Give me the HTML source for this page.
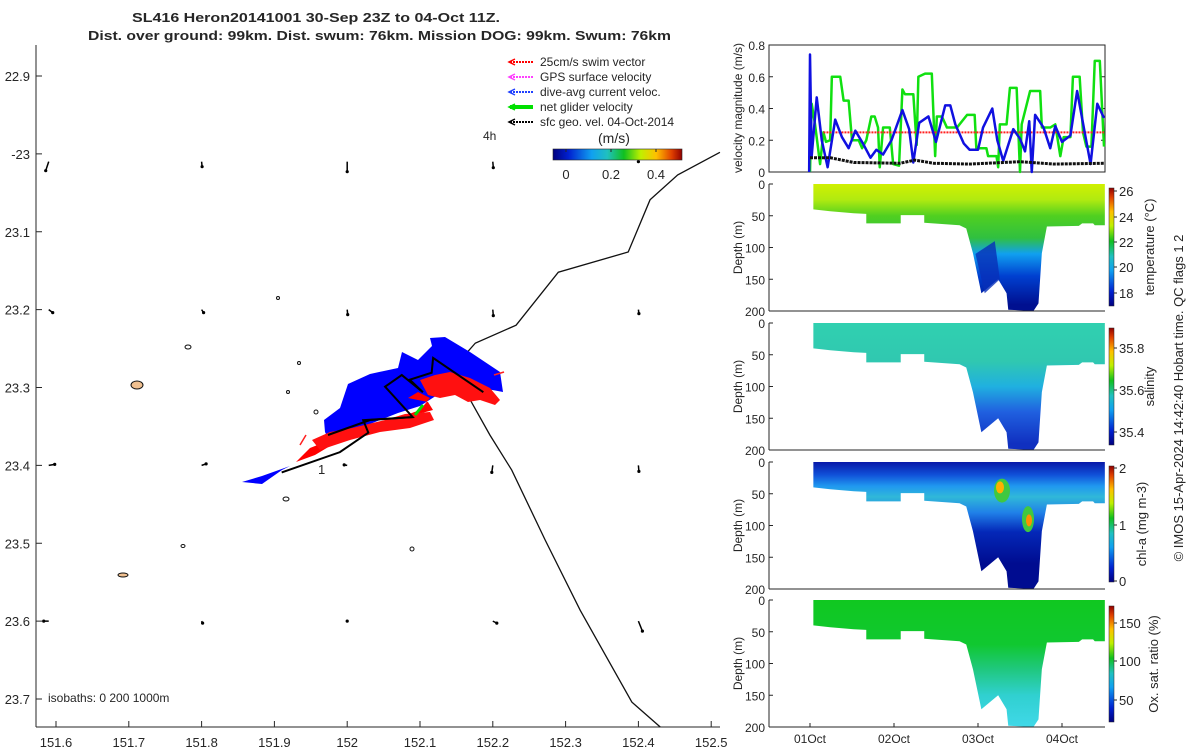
<!DOCTYPE html>
<html><head><meta charset="utf-8">
<style>
html,body{margin:0;padding:0;background:#fff;}
svg{display:block;font-family:"Liberation Sans","DejaVu Sans",sans-serif;}
text{fill:#262626;}
</style></head>
<body>
<svg id="fig" width="1200" height="750" viewBox="0 0 1200 750" xmlns="http://www.w3.org/2000/svg">
<defs>
<linearGradient id="jet" x1="0" y1="1" x2="0" y2="0">
<stop offset="0" stop-color="#00007f"/><stop offset="0.12" stop-color="#0020d0"/><stop offset="0.3" stop-color="#10a0f0"/><stop offset="0.42" stop-color="#20c0c0"/><stop offset="0.55" stop-color="#10c020"/><stop offset="0.68" stop-color="#c0f000"/><stop offset="0.8" stop-color="#ffc000"/><stop offset="0.92" stop-color="#e04000"/><stop offset="1" stop-color="#900000"/>
</linearGradient>
<linearGradient id="jeth" x1="0" y1="0" x2="1" y2="0">
<stop offset="0" stop-color="#00007f"/><stop offset="0.12" stop-color="#0020d0"/><stop offset="0.3" stop-color="#10a0f0"/><stop offset="0.42" stop-color="#20c0c0"/><stop offset="0.55" stop-color="#10c020"/><stop offset="0.68" stop-color="#c0f000"/><stop offset="0.8" stop-color="#ffc000"/><stop offset="0.92" stop-color="#e04000"/><stop offset="1" stop-color="#900000"/>
</linearGradient>
</defs>
<g>
<text x="132" y="22" font-size="13" font-weight="bold" fill="#000" textLength="368" lengthAdjust="spacingAndGlyphs">SL416 Heron20141001 30-Sep 23Z to 04-Oct 11Z.</text>
<text x="88" y="40" font-size="13" font-weight="bold" fill="#000" textLength="583" lengthAdjust="spacingAndGlyphs">Dist. over ground: 99km. Dist. swum: 76km. Mission DOG: 99km. Swum: 76km</text>
</g>
<g id="map"></g>
<g id="right"></g>
</svg>
<script>
const NS="http://www.w3.org/2000/svg";
function el(p,t,a,txt){const e=document.createElementNS(NS,t);for(const k in a)e.setAttribute(k,a[k]);if(txt!==undefined)e.textContent=txt;p.appendChild(e);return e;}

// ---------- data ----------
const lonTicks=[151.6,151.7,151.8,151.9,152,152.1,152.2,152.3,152.4,152.5];
const latTicks=[22.9,23,23.1,23.2,23.3,23.4,23.5,23.6,23.7];
const latLabels=["22.9","-23","23.1","23.2","23.3","23.4","23.5","23.6","23.7"];
const coastLon=[152.512,152.454,152.416,152.386,152.290,152.232,152.176,152.158,152.169,152.196,152.226,152.272,152.320,152.391,152.430];
const coastLat=[22.998,23.027,23.059,23.126,23.152,23.220,23.243,23.262,23.316,23.361,23.406,23.496,23.586,23.704,23.736];
const trackLon=[151.910,151.990,152.029,152.022,152.090,152.052,152.075,152.104,152.086,152.116,152.118,152.187];
const trackLat=[23.409,23.383,23.358,23.342,23.338,23.299,23.284,23.306,23.290,23.281,23.262,23.306];
const gridLon=[151.59,151.8,152.0,152.2,152.4];
const gridLat=[23.01,23.2,23.4,23.6];
const arrowU=[[-0.3,0.05,0,0.05,0],[0.4,0.2,0.05,0.05,0.05],[0.6,0.45,-0.3,-0.1,0.05],[-0.5,0.1,0,0.4,0.4]];
const arrowV=[[-0.9,-0.5,-1,-0.6,0],[-0.3,-0.3,-0.5,-0.6,-0.4],[0.1,0.15,0.05,-0.7,-0.6],[0,-0.2,0,-0.2,-1]];

const days=["01Oct","02Oct","03Oct","04Oct"];
const dayVal=[0,1,2,3];
const velTicks=[0,0.2,0.4,0.6,0.8];
const blueT=[-0.01,0,0.02,0.08,0.14,0.21,0.30,0.38,0.46,0.54,0.63,0.72,0.79,0.87,0.97,1.10,1.18,1.23,1.30,1.41,1.50,1.61,1.67,1.73,1.83,1.90,2.00,2.06,2.17,2.23,2.30,2.42,2.50,2.56,2.61,2.64,2.68,2.78,2.86,2.92,3.00,3.10,3.18,3.27,3.34,3.42,3.50];
const blueV=[0,0.74,0.1,0.47,0.2,0.03,0.33,0.22,0.15,0.26,0.18,0.09,0.14,0.11,0.2,0.39,0.27,0.06,0.31,0.35,0.19,0.42,0.42,0.3,0.18,0.14,0.14,0.28,0.4,0.2,0.07,0.27,0.21,0.13,0.32,0,0.36,0.28,0.15,0.29,0.19,0.23,0.51,0.25,0.05,0.43,0.34];
const greenT=[0,0.02,0.06,0.12,0.16,0.19,0.24,0.26,0.36,0.40,0.46,0.50,0.58,0.62,0.67,0.73,0.77,0.81,0.83,0.87,0.95,0.99,1.06,1.10,1.13,1.23,1.27,1.29,1.37,1.45,1.49,1.51,1.57,1.63,1.69,1.75,1.87,1.96,1.98,2.10,2.12,2.22,2.24,2.26,2.34,2.38,2.46,2.50,2.52,2.62,2.74,2.76,2.86,2.92,2.98,3.02,3.10,3.13,3.21,3.25,3.29,3.35,3.39,3.45,3.50];
const greenV=[0,0.43,0.3,0.05,0.25,0.19,0.2,0.6,0.6,0.45,0.45,0.2,0.2,0.15,0.2,0.35,0.35,0.28,0.03,0.28,0.28,0.05,0.04,0.52,0.49,0.49,0.17,0.6,0.62,0.62,0.1,0.35,0.35,0.28,0.28,0.28,0.36,0.36,0.15,0.15,0.1,0.1,0.03,0.3,0.3,0.53,0.53,0,0.3,0.51,0.51,0.28,0.28,0.3,0.1,0.22,0.22,0.6,0.6,0.25,0.16,0.16,0.7,0.7,0.16];
const blackT=[0,0.24,0.52,1.07,1.25,1.47,1.90,2.50,2.90,3.50];
const blackV=[0.09,0.09,0.06,0.055,0.075,0.055,0.05,0.065,0.05,0.055];
const redT=[0.16,3.5];
const redV=[0.25,0.25];
const profT=[0.04,0.24,0.52,0.67,0.67,1.08,1.08,1.36,1.36,1.78,1.86,1.94,2.04,2.24,2.34,2.36,2.66,2.72,2.76,2.82,3.20,3.24,3.37,3.39,3.51];
const profD=[40,43,46,47,62,62,49,49,61,65,70,109,172,150,172,198,200,188,109,67,66,62,62,65,65];
const depthTicks=[0,50,100,150,200];

// ---------- map ----------
const map=document.getElementById('map');
const X0=36,X1=720,YT=45,YB=727;
const lx=v=>56+(v-151.6)*728;
const ly=v=>76+(v-22.9)*778.75;
el(map,'line',{x1:X0,y1:YT,x2:X0,y2:YB,stroke:'#262626','stroke-width':1,});
el(map,'line',{x1:X0,y1:YB,x2:X1,y2:YB,stroke:'#262626','stroke-width':1,});
lonTicks.forEach(v=>{const x=lx(v);
 el(map,'line',{x1:x,y1:YB,x2:x,y2:YB-6,stroke:'#262626'});
 const t=el(map,'text',{x:x,y:747,'text-anchor':'middle','font-size':13},String(v));
 });
latTicks.forEach((v,i)=>{const y=ly(v);
 el(map,'line',{x1:X0,y1:y,x2:X0+6,y2:y,stroke:'#262626'});
 const t=el(map,'text',{x:30,y:y+5,'text-anchor':'end','font-size':13},latLabels[i]);
 });
let cp=coastLon.map((v,i)=>lx(v)+','+ly(coastLat[i])).join(' ');
const coast=el(map,'polyline',{points:cp,fill:'none',stroke:'#111','stroke-width':1.3});

[[137,385,6,4],[188,347,3,2],[286,499,3,2],[123,575,5,2],[183,546,2,1.5],[412,549,2,2],[278,298,1.5,1.5],[299,363,1.5,1.5],[288,392,1.5,1.5],[316,412,2,2]].forEach(a=>{
 const e=el(map,'ellipse',{cx:a[0],cy:a[1],rx:a[2],ry:a[3],fill:a[2]>4?'#f0c090':'none',stroke:'#111','stroke-width':1});
 });
gridLat.forEach((la,i)=>gridLon.forEach((lo,j)=>{const x=lx(lo),y=ly(la);const u=arrowU[i][j]*10,v=arrowV[i][j]*10;
 const a=el(map,'line',{x1:x,y1:y,x2:x+u,y2:y-v,stroke:'#000','stroke-width':1.5});
 
 el(map,'circle',{cx:x+u,cy:y-v,r:1.6,fill:'#000'});}));
const blue=el(map,'polygon',{points:'242,482 262,476 290,466 318,452 330,442 325,432 324,420 340,408 348,384 370,374 398,368 402,352 418,360 432,346 430,338 445,337 470,352 500,372 503,392 482,388 455,375 442,392 420,406 398,413 370,424 345,438 312,455 282,470 262,484',fill:'#0000ff'});

const red1=el(map,'polygon',{points:'296,462 310,448 330,440 345,434 375,428 398,420 418,414 433,410 428,402 408,398 418,392 430,398 420,410 398,418 372,425 340,440 315,455',fill:'#ff0000'});

el(map,'polygon',{points:'312,440 330,432 352,428 385,420 405,414 430,412 434,420 410,428 380,432 350,440 320,450',fill:'#ff1010'});
el(map,'polygon',{points:'420,380 435,375 450,372 470,378 490,388 500,400 495,405 480,400 468,402 455,395 440,398 428,395',fill:'#ff1010'});
el(map,'line',{x1:300,y1:445,x2:306,y2:435,stroke:'#ff2020','stroke-width':1.5});
el(map,'line',{x1:494,y1:375,x2:504,y2:372,stroke:'#ff2020','stroke-width':1.5});
el(map,'line',{x1:415,y1:415,x2:423,y2:405,stroke:'#00e000','stroke-width':3});
const tp=trackLon.map((v,i)=>lx(v)+','+ly(trackLat[i])).join(' ');
const tr=el(map,'polyline',{points:tp,fill:'none',stroke:'#000','stroke-width':2});

el(map,'polyline',{points:'328,435 370,420 413,417',fill:'none',stroke:'#000','stroke-width':2});
el(map,'text',{x:318,y:474,'font-size':13},'1');
const leg=[['#ff0000','25cm/s swim vector',2],['#ff40ff','GPS surface velocity',2],['#2040ff','dive-avg current veloc.',2],['#00e000','net glider velocity',4],['#000','sfc geo. vel. 04-Oct-2014',2]];
leg.forEach((l,i)=>{const y=62+i*15;const g=el(map,'g',{});
 
 el(g,'line',{x1:510,y1:y,x2:533,y2:y,stroke:l[0],'stroke-width':l[2],'stroke-dasharray':l[2]>2?'':'2,1'});
 el(g,'polyline',{points:(515)+','+(y-3)+' 509,'+y+' '+(515)+','+(y+3),fill:'none',stroke:l[0],'stroke-width':1.5});
 el(g,'text',{x:540,y:y+4,'font-size':12},l[1]);});
el(map,'text',{x:483,y:140,'font-size':12},'4h');
el(map,'text',{x:598,y:143,'font-size':14},'(m/s)');
const cb=el(map,'rect',{x:553,y:149,width:129,height:11,fill:'url(#jeth)',stroke:'#262626','stroke-width':0.6});

[['0',566],['0.2',611],['0.4',656]].forEach(a=>{el(map,'line',{x1:a[1],y1:149,x2:a[1],y2:152,stroke:'#262626'});el(map,'text',{x:a[1],y:179,'text-anchor':'middle','font-size':13},a[0]);});
el(map,'text',{x:48,y:702,'font-size':12},'isobaths: 0   200  1000m');

// ---------- right panels ----------
const R=document.getElementById('right');
const PX0=769,PX1=1105;
const tx=d=>810+d*84;
const VT=45,VB=172;
const vy=v=>VB-v/0.8*(VB-VT);
el(R,'rect',{x:PX0,y:VT,width:PX1-PX0,height:VB-VT,fill:'none',stroke:'#262626','stroke-width':1,});
velTicks.forEach(v=>{el(R,'line',{x1:PX0,y1:vy(v),x2:PX0+4,y2:vy(v),stroke:'#262626'});el(R,'line',{x1:PX1,y1:vy(v),x2:PX1-4,y2:vy(v),stroke:'#262626'});
 el(R,'text',{x:PX0-4,y:vy(v)+5,'text-anchor':'end','font-size':12},String(v));});
el(R,'text',{transform:'translate(742,108) rotate(-90)','text-anchor':'middle','font-size':12},'velocity magnitude (m/s)');
function line(T,V,col,w,name,dash){const p=T.map((t,i)=>tx(t)+','+vy(V[i])).join(' ');const e=el(R,'polyline',{points:p,fill:'none',stroke:col,'stroke-width':w,'stroke-linejoin':'round'});if(dash)e.setAttribute('stroke-dasharray',dash);return e;}
let s;
s=line(greenT,greenV,'#10e010',2.5);
s=line(redT,redV,'#ff2020',2,null,'2,1');
s=line(blueT,blueV,'#1010e0',2.5);
s=line(blackT,blackV,'#111',3,null,'3,1');

const panels=[
 {top:184,bot:311,name:'temperature',label:'temperature (°C)',lx:1154,cbTop:188,cbBot:306,ticks:[['26',191],['24',217],['22',242],['20',267],['18',293]],
  stops:[[0,'#d0f000'],[25,'#b0ea10'],[50,'#50d020'],[85,'#30c040'],[110,'#10a0f0'],[145,'#0040d0'],[190,'#001090']]},
 {top:323,bot:450,name:'salinity',label:'salinity',lx:1154,cbTop:328,cbBot:445,ticks:[['35.8',348],['35.6',390],['35.4',432]],
  stops:[[0,'#30d0b0'],[60,'#30c8b0'],[100,'#20b0e0'],[140,'#2060e0'],[190,'#1030c0']]},
 {top:462,bot:589,name:'chlorophyll',label:'chl-a (mg m-3)',lx:1146,cbTop:466,cbBot:582,ticks:[['2',468],['1',525],['0',581]],
  stops:[[0,'#0818a8'],[20,'#1050d8'],[38,'#2098f0'],[55,'#30b8d8'],[80,'#2080e8'],[110,'#0428b8'],[160,'#000c90']]},
 {top:600,bot:727,name:'oxygen',label:'Ox. sat. ratio (%)',lx:1158,cbTop:606,cbBot:722,ticks:[['150',623],['100',661],['50',700]],
  stops:[[0,'#10c820'],[70,'#10c830'],[110,'#20c880'],[150,'#30d0d0'],[200,'#40d8e8']]}
];
const defs=document.querySelector('defs');
panels.forEach((p,k)=>{
 const dy=d=>p.top+d/200*(p.bot-p.top);
 const g=el(R,'g',{});
 
 const gr=el(defs,'linearGradient',{id:'gr'+k,gradientUnits:'userSpaceOnUse',x1:0,y1:p.top,x2:0,y2:p.bot});
 p.stops.forEach(st=>el(gr,'stop',{offset:st[0]/200,'stop-color':st[1]}));
 const pts=[tx(profT[0])+','+dy(0)].concat([tx(profT[profT.length-1])+','+dy(0)]).concat(profT.slice().reverse().map((t,i)=>tx(t)+','+dy(profD[profD.length-1-i])));
 el(g,'polygon',{points:pts.join(' '),fill:'url(#gr'+k+')'});
 if(k===0){el(g,'polygon',{points:tx(1.97)+','+dy(110)+' '+tx(2.2)+','+dy(90)+' '+tx(2.26)+','+dy(150)+' '+tx(2.08)+','+dy(172),fill:'#0830b8',opacity:0.8});}
 if(k===2){el(g,'ellipse',{cx:1002,cy:dy(45),rx:8,ry:12,fill:'#40c840'});el(g,'ellipse',{cx:1000,cy:dy(40),rx:4,ry:6,fill:'#ffb000'});
  el(g,'ellipse',{cx:1028,cy:dy(90),rx:6,ry:13,fill:'#40c840'});el(g,'ellipse',{cx:1029,cy:dy(92),rx:3,ry:6,fill:'#ff9000'});}
 el(R,'line',{x1:PX0,y1:p.top,x2:PX0,y2:p.bot,stroke:'#262626'});
 el(R,'line',{x1:PX0,y1:p.bot,x2:PX1,y2:p.bot,stroke:'#262626'});
 depthTicks.forEach(d=>{el(R,'line',{x1:PX0,y1:dy(d),x2:PX0+4,y2:dy(d),stroke:'#262626'});
  el(R,'text',{x:PX0-4,y:dy(d)+5,'text-anchor':'end','font-size':12},String(d));});
 el(R,'text',{transform:'translate(742,'+((p.top+p.bot)/2)+') rotate(-90)','text-anchor':'middle','font-size':12},'Depth (m)');
 const c=el(R,'rect',{x:1109,y:p.cbTop,width:5,height:p.cbBot-p.cbTop,fill:'url(#jet)',stroke:'#262626','stroke-width':0.5});
 
 p.ticks.forEach(t=>{el(R,'line',{x1:1114,y1:t[1],x2:1117,y2:t[1],stroke:'#262626'});el(R,'text',{x:1119,y:t[1]+5,'font-size':13},t[0]);});
 const lab=el(R,'text',{transform:'translate('+p.lx+','+((p.cbTop+p.cbBot)/2)+') rotate(-90)','text-anchor':'middle','font-size':13},p.label);
 
});
dayVal.forEach((d,i)=>{el(R,'line',{x1:tx(d),y1:727,x2:tx(d),y2:723,stroke:'#262626'});
 const t=el(R,'text',{x:tx(d),y:743,'text-anchor':'middle','font-size':12},days[i]);
 });
const cr=el(R,'text',{transform:'translate(1183,398) rotate(-90)','text-anchor':'middle','font-size':13},'© IMOS 15-Apr-2024 14:42:40 Hobart time. QC flags 1  2');

</script>
</body></html>
